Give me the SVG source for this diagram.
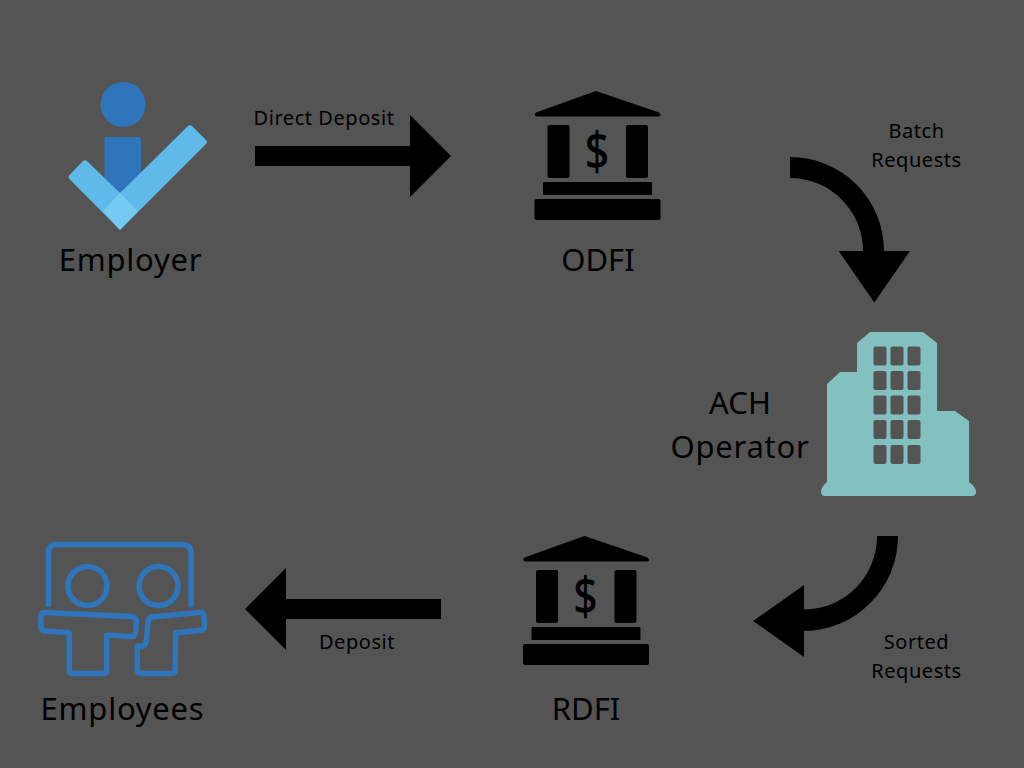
<svg xmlns="http://www.w3.org/2000/svg" width="1024" height="768" viewBox="0 0 1024 768">
<style>
.t{font-family:"Noto Sans","DejaVu Sans",sans-serif;fill:#000;text-anchor:middle}
.l{font-size:31px;letter-spacing:.75px}
.s{font-size:20px;letter-spacing:.55px}
.k{fill:#000}
.o{fill:none;stroke:#2e75bb;stroke-width:5.500;stroke-linejoin:round;stroke-linecap:round}
.w{fill:#545454}
</style>
<defs>
<g id="bank">
<path class="k" d="M596 91L659 112.500Q662 115.500 659 116.500H537Q533 115.500 536 112.500Z"/>
<rect class="k" x="547.500" y="125" width="22" height="53" rx="2"/>
<rect class="k" x="626" y="125" width="22" height="53" rx="2"/>
<rect class="k" x="543" y="182" width="109" height="13" rx="1"/>
<rect class="k" x="534.500" y="199" width="126" height="21" rx="2"/>
<text transform="translate(597 170) scale(.82 1)" x="0" y="0" font-family="'Noto Sans',sans-serif" font-size="52" font-weight="500" text-anchor="middle" fill="#000">$</text>
</g>
</defs>
<rect width="1024" height="768" fill="#545454"/>
<g id="connectors">
<path class="k" d="M255 146H410V115L451 156L410 197V166H255Z"/>
<path class="k" d="M790 157A94 94 0 0 1 884 251H910L874.300 302.500L838.700 251H863A73 73 0 0 0 790 178Z"/>
<path class="k" d="M898 536A95 95 0 0 1 804 631V657L753 621L804 585V609.500A73 73 0 0 0 877 536Z"/>
<path class="k" d="M441 599H286V568L245 609L286 650V619H441Z"/>
</g>
<g id="employer">
<circle cx="123" cy="104.500" r="22.500" fill="#2e75bb"/>
<path d="M104.500 140Q104.500 137 107.500 137H138Q141 137 141 140V175L120 195L104.500 180Z" fill="#2e75bb"/>
<path d="M68.500 177Q68.500 176 69.500 175L83 161Q85 159.500 87 161L120 193L188 126Q190 124.500 192 126L206 140Q208 142 206 144L121 229Q120 230 119 229L69.500 179Q68.500 178 68.500 177Z" fill="#5fbaea"/>
<path d="M103 211L120 193L138 211L121 229Q120 230 119 229Z" fill="#74caf1"/>
<text class="t l" x="130.500" y="271">Employer</text>
</g>
<g id="odfi">
<use href="#bank"/>
<text class="t l" x="598" y="271" style="letter-spacing:0">ODFI</text>
</g>
<g id="ach-operator">
<path fill="#82c1c0" d="M870 332H923L937 343V411H955L969 421V482Q976 487 976 492Q976 496 972 496H825Q821 496 821 492Q821 487 827 482V384L840 372H857V343Z"/>
<g class="w">
<rect x="873.500" y="346.500" width="13" height="19" rx="2"/><rect x="890.500" y="346.500" width="13" height="19" rx="2"/><rect x="907.500" y="346.500" width="13" height="19" rx="2"/>
<rect x="873.500" y="371" width="13" height="19" rx="2"/><rect x="890.500" y="371" width="13" height="19" rx="2"/><rect x="907.500" y="371" width="13" height="19" rx="2"/>
<rect x="873.500" y="395.500" width="13" height="19" rx="2"/><rect x="890.500" y="395.500" width="13" height="19" rx="2"/><rect x="907.500" y="395.500" width="13" height="19" rx="2"/>
<rect x="873.500" y="420" width="13" height="19" rx="2"/><rect x="890.500" y="420" width="13" height="19" rx="2"/><rect x="907.500" y="420" width="13" height="19" rx="2"/>
<rect x="873.500" y="445" width="13" height="19" rx="2"/><rect x="890.500" y="445" width="13" height="19" rx="2"/><rect x="907.500" y="445" width="13" height="19" rx="2"/>
</g>
<text class="t l" x="740" y="414" style="letter-spacing:0">ACH</text>
<text class="t l" x="740" y="458">Operator</text>
</g>
<g id="rdfi">
<use href="#bank" transform="translate(-11.500 445)"/>
<text class="t l" x="586" y="720" style="letter-spacing:0">RDFI</text>
</g>
<g id="employees">
<path class="o" d="M48.500 604.500V553Q48.500 544.500 57 544.500H182Q191 544.500 191 553V605"/>
<circle class="o" cx="87.500" cy="586" r="19.500"/>
<circle class="o" cx="158.500" cy="586" r="19.500"/>
<path class="o" d="M45 612.500L131 616.500Q136.500 617 136.500 622L135.500 632Q135.500 637 130 636.500L106.700 635V670Q106.700 673.500 103 673.500H73Q69.300 673.500 69.300 670V632.700L45 631Q41 630.500 41 627V616Q41 612.500 45 612.500Z"/>
<path class="o" d="M152 617L199 612.500Q204 612 204 616L204.500 626Q204.500 630 200 630.500L175.700 632.700L175 670Q175 673.500 171 673.500H142Q137.300 673.500 137.300 670V646H142Q146 646 146.500 640L148 622Q148.500 617.500 152 617Z"/>
<text class="t l" x="122.500" y="720">Employees</text>
</g>
<g id="labels">
<text class="t s" x="324" y="125">Direct Deposit</text>
<text class="t s" x="916.500" y="138">Batch</text>
<text class="t s" x="916.500" y="167">Requests</text>
<text class="t s" x="916.500" y="649">Sorted</text>
<text class="t s" x="916.500" y="678">Requests</text>
<text class="t s" x="357" y="649">Deposit</text>
</g>
</svg>
